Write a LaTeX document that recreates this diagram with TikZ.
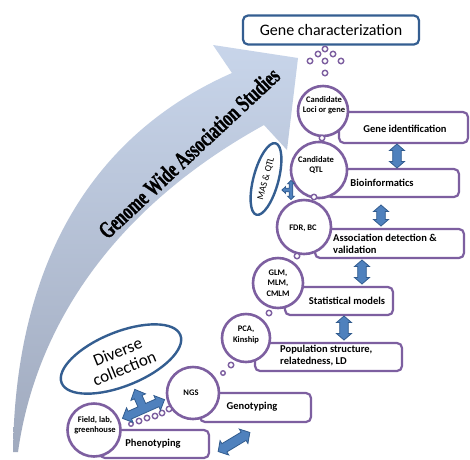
\documentclass[tikz,border=0pt]{standalone}
\usepackage{fontspec}
\setmainfont{Carlito}
\newfontfamily\gwasfont[FakeStretch=0.68,FakeBold=1]{Liberation Serif Bold}
\usetikzlibrary{shapes.geometric,calc}
\definecolor{pur}{RGB}{125,95,160}
\definecolor{dblue}{RGB}{52,94,145}
\definecolor{afill}{RGB}{79,129,189}
\definecolor{aline}{RGB}{50,92,142}
\definecolor{bgtop}{RGB}{200,213,234}
\definecolor{bgbot}{RGB}{160,170,190}
\tikzset{
  tarrow/.pic={\draw[draw=aline,fill=afill,line width=0.8pt]
    (-23,0) -- (-15,-8) -- (-15,-4.2) -- (-4.2,-4.2) -- (-4.2,-13) -- (-8,-13)
    -- (0,-21.5) -- (8,-13) -- (4.2,-13) -- (4.2,-4.2) -- (15,-4.2) -- (15,-8)
    -- (23,0) -- (15,8) -- (15,4.2) -- (-15,4.2) -- (-15,8) -- cycle;},
  pics/dblarr/.style={code={\draw[draw=aline,fill=afill,line width=0.8pt]
    (-#1/2,0) -- ++(6.5,-7.5) -- ++(0,3.2) -- (#1/2-6.5,-4.3) -- ++(0,-3.2) -- (#1/2,0)
    -- ++(-6.5,7.5) -- ++(0,-3.2) -- (-#1/2+6.5,4.3) -- ++(0,3.2) -- cycle;}}
}
\begin{document}
\begin{tikzpicture}[x=1pt,y=-1pt,
  pbox/.style={draw=pur,line width=2.2pt,rounded corners=5pt,fill=white,inner sep=0pt},
  pcirc/.style={circle,draw=pur,line width=2.6pt,fill=white,inner sep=0pt},
  pdot/.style={circle,draw=pur,line width=1.4pt,fill=white,inner sep=0pt,minimum size=#1},
  pdot/.default=5.5pt,
  ctext/.style={font=\fontsize{8.5}{10.5}\selectfont\bfseries,align=center,inner sep=0pt},
  btext/.style={font=\fontsize{10.5}{12}\selectfont\bfseries,align=left,inner sep=0pt},
  bell/.style={ellipse,draw=dblue,line width=2.4pt,fill=white,inner sep=0pt},
]
\useasboundingbox (0,0) rectangle (470,459);
\fill[white] (0,0) rectangle (470,459);

% big curved arrow
\shade[top color=bgtop,bottom color=bgbot]
  (13,452) .. controls (15,280) and (80,140) .. (232,73) -- (213,45) -- (298,58)
  -- (287,150) -- (264,125) .. controls (110,210) and (35,330) .. (18,452) -- cycle;
\node[rotate=43,font=\gwasfont\fontsize{24}{26}\selectfont,inner sep=0pt] (gwas) at (189,153) {Genome Wide Association Studies};

% top box
\node[draw=dblue,line width=2.2pt,rounded corners=5pt,fill=white,minimum width=176pt,minimum height=29pt,
  font=\fontsize{16}{19}\selectfont] (gc) at (331,30) {Gene characterization};

% purple boxes
\node[pbox,minimum width=129pt,minimum height=31pt] (geneid) at (403.5,127.5) {};
\node[btext] (geneid-t) at (405,129) {Gene identification};
\node[pbox,minimum width=133pt,minimum height=28pt] (bioinf) at (392.5,183) {};
\node[btext] (bioinf-t) at (382,183) {Bioinformatics};
\node[pbox,minimum width=149pt,minimum height=29pt] (assoc) at (389.5,243.5) {};
\node[btext,anchor=west] (assoc-t) at (333,244) {Association detection \&\\validation};
\node[pbox,minimum width=108pt,minimum height=28pt] (stat) at (339,301) {};
\node[btext] (stat-t) at (347,301) {Statistical models};
\node[pbox,minimum width=147pt,minimum height=28pt] (pop) at (328.5,357) {};
\node[btext,anchor=west] (pop-t) at (280,356) {Population structure,\\relatedness, LD};
\node[pbox,minimum width=111pt,minimum height=29pt] (geno) at (255.5,407.5) {};
\node[btext] (geno-t) at (252,407) {Genotyping};
\node[pbox,minimum width=109pt,minimum height=28pt] (pheno) at (154.5,444) {};
\node[btext] (pheno-t) at (153,444) {Phenotyping};

% purple circles
\node[pcirc,minimum size=50pt] (loci) at (323,111) {};
\node[ctext] (loci-t) at (324,105) {Candidate\\Loci or gene};
\node[pcirc,minimum size=56pt] (qtl) at (319,170) {};
\node[ctext] (qtl-t) at (316,165) {Candidate\\QTL};
\node[pcirc,minimum size=54pt] (fdr) at (304,227) {};
\node[ctext] (fdr-t) at (303,228) {FDR, BC};
\node[pcirc,minimum size=50pt] (glm) at (278,283) {};
\node[ctext] (glm-t) at (278,283) {GLM,\\MLM,\\CMLM};
\node[pcirc,minimum size=48pt] (pca) at (246,338) {};
\node[ctext] (pca-t) at (246,335) {PCA,\\Kinship};
\node[pcirc,minimum size=52pt] (ngs) at (193,393) {};
\node[ctext] (ngs-t) at (191,393) {NGS};
\node[pcirc,minimum size=53pt] (field) at (94,430) {};
\node[ctext] (field-t) at (95,425) {Field, lab,\\greenhouse};

% small dots
\foreach \p [count=\i] in {(325,49),(318,54),(333,54),(310,61),(325,61),(341,61),(325,73),
  (322,138),(314,197),(297,256),(269,313),(231,365),(169,409),(162,413),(155,416),(147,418),(139,421)}
  \node[pdot] (d\i) at \p {};
\node[pdot=4.5pt] (d18) at (223,373) {};
\node[pdot=4.5pt] (d19) at (131,424) {};

% blue ellipses
\node[bell,minimum width=128pt,minimum height=54pt,rotate=22] (dc) at (121,359) {};
\node[rotate=22,font=\fontsize{17}{18}\selectfont,align=center,inner sep=0pt] (dc-t) at (121,360) {Diverse\\collection};
\node[bell,minimum width=74pt,minimum height=25pt,rotate=75] (mas) at (266,179) {};
\node[rotate=75,font=\fontsize{9.5}{11}\selectfont,inner sep=0pt] (mas-t) at (266,179) {MAS \& QTL};

% blue block arrows
\pic[rotate=90] at (397,156) {dblarr=24};
\pic[rotate=90] at (381,215.5) {dblarr=21};
\pic[rotate=90] at (362,272) {dblarr=24};
\pic[rotate=90] at (344,328) {dblarr=24};
\pic[rotate=31,scale=1.12] at (234,442) {dblarr=33};
\pic[rotate=24] at (143.5,409) {tarrow};
\pic[rotate=90,scale=0.42] at (291,190) {tarrow};
\end{tikzpicture}
\end{document}
